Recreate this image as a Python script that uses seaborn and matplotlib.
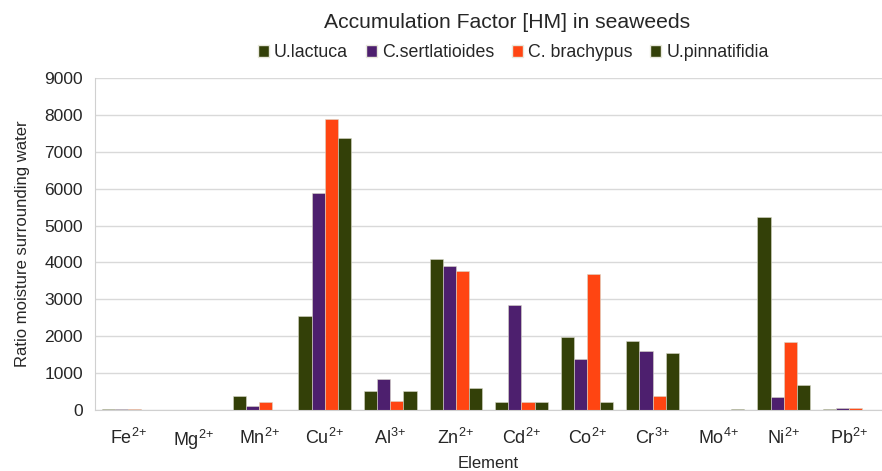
import pandas as pd
import matplotlib.pyplot as plt
import seaborn as sns
from matplotlib.patches import Patch

# Values
elements = ["Fe$^{2{+}}$", "Mg$^{2{+}}$", "Mn$^{2{+}}$", "Cu$^{2{+}}$", "Al$^{3{+}}$", "Zn$^{2{+}}$",
            "Cd$^{2{+}}$", "Co$^{2{+}}$", "Cr$^{3{+}}$", "Mo$^{4{+}}$", "Ni$^{2{+}}$", "Pb$^{2{+}}$"]
species = ["U.lactuca", "C.sertlatioides", "C. brachypus", "U.pinnatifidia"]
u_lactuca = [30, 0, 380, 2540, 500, 4100, 200, 1980, 1860, 0, 5240, 30]
c_sertlatioides = [10, 0, 100, 5890, 830, 3890, 2850, 1390, 1600, 0, 360, 60]
c_brachypus = [15, 0, 200, 7880, 230, 3780, 220, 3680, 380, 0, 1830, 35]
u_pinnatifidia = [0, 0, 0, 7380, 520, 590, 210, 210, 1540, 15, 660, 0]
colors = ["#334008", "#4d1f6e", "#ff4512", "#334008"]

series = [u_lactuca, c_sertlatioides, c_brachypus, u_pinnatifidia]
rows = []
for name, vals in zip(species, series):
    for el, v in zip(elements, vals):
        rows.append({"Element": el, "Species": name, "Value": v})
df = pd.DataFrame(rows)

sns.set_style("white")
plt.rcParams["font.family"] = ["Liberation Sans", "DejaVu Sans"]
plt.rcParams["mathtext.fontset"] = "custom"
plt.rcParams["mathtext.rm"] = "Liberation Sans"
plt.rcParams["mathtext.it"] = "Liberation Sans"

fig = plt.figure(figsize=(8.82, 4.71), dpi=100)
ax = fig.add_axes([0.108, 0.13, 0.892, 0.704])

sns.barplot(data=df, x="Element", y="Value", hue="Species", palette=colors,
            saturation=1, width=0.8, edgecolor="#d8d8c8", linewidth=0.4,
            legend=False, ax=ax)

ax.set_ylim(0, 9000)
ax.set_xlim(-0.5, 11.5)
ax.set_yticks(range(0, 9001, 1000))
ax.yaxis.grid(True, color="#d9d9d9", linewidth=1)
ax.set_axisbelow(True)
for s in ["top", "right"]:
    ax.spines[s].set_visible(False)
for s in ["left", "bottom"]:
    ax.spines[s].set_color("#d0d0d0")

ax.set_xticks([i - 0.5 for i in range(13)], minor=True)
ax.tick_params(axis="x", which="major", length=0, labelsize=13, pad=13)
ax.tick_params(axis="x", which="minor", length=6, color="#d0d0d0", width=1)
ax.tick_params(axis="y", length=5, color="#d0d0d0", labelsize=12.5, pad=4)

ax.set_xlabel("Element", fontsize=12, labelpad=3)
ax.set_ylabel("Ratio moisture surrounding water", fontsize=12, labelpad=10)

fig.suptitle("Accumulation Factor [HM] in seaweeds", fontsize=15.2, x=0.575, y=0.972)
handles = [Patch(facecolor=c, edgecolor="#e8e8dc", label=n) for c, n in zip(colors, species)]
fig.legend(handles=handles, loc="center", bbox_to_anchor=(0.582, 0.888), ncol=4,
           frameon=False, fontsize=12.8, handlelength=0.6, handleheight=0.6,
           handletextpad=0.3, columnspacing=1.0)

fig.savefig("out.png", dpi=100)
